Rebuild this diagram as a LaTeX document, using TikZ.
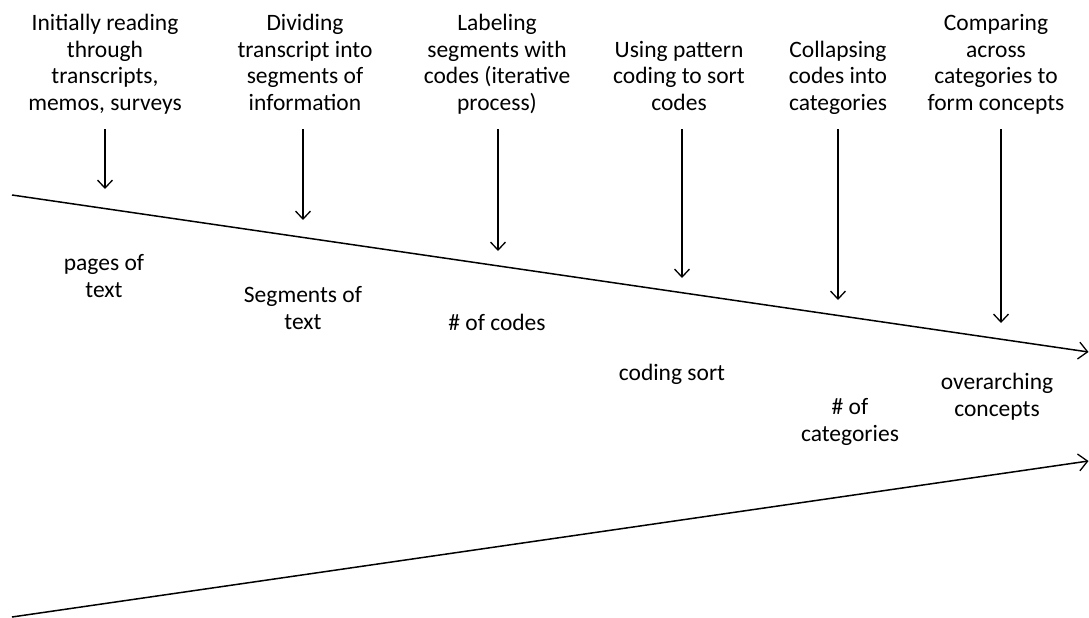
\documentclass[tikz,border=0pt]{standalone}
\usepackage{fontspec}
\setmainfont{Carlito}
\usetikzlibrary{arrows.meta}
\tikzset{
  lbl/.style={align=center, inner sep=0pt, anchor=base, font=\fontsize{23.5}{26.4}\selectfont},
  varrow/.style={line width=1.3pt, -{Straight Barb[length=8pt,width=15pt,line width=1.3pt]}},
  bigline/.style={line width=1.5pt, -{Straight Barb[length=9pt,width=17pt,line width=1.3pt]}}
}
\begin{document}
\begin{tikzpicture}[x=1pt,y=-1pt]
\useasboundingbox (0,0) rectangle (1089,618);
% top labels (anchored at last-line baseline)
\node[lbl] (t1) at (105,110) {Initially reading\\through\\transcripts,\\memos, surveys};
\node[lbl] (t2) at (305,110) {Dividing\\transcript into\\segments of\\information};
\node[lbl] (t3) at (497,110) {Labeling\\segments with\\codes (iterative\\process)};
\node[lbl] (t4) at (679,110) {Using pattern\\coding to sort\\codes};
\node[lbl] (t5) at (838,110) {Collapsing\\codes into\\categories};
\node[lbl] (t6) at (996,110) {Comparing\\across\\categories to\\form concepts};
% bottom labels
\node[lbl] (b1) at (104,297) {pages of\\text};
\node[lbl] (b2) at (303,329) {Segments of\\text};
\node[lbl] (b3) at (497,330) {\# of codes};
\node[lbl] (b4) at (672,380) {coding sort};
\node[lbl] (b5) at (850,441) {\# of\\categories};
\node[lbl] (b6) at (997,416) {overarching\\concepts};
% arrow coordinates
\coordinate (s1) at (105,129); \coordinate (e1) at (105,189);
\coordinate (s2) at (303,129); \coordinate (e2) at (303,220);
\coordinate (s3) at (498,129); \coordinate (e3) at (498,251);
\coordinate (s4) at (682,129); \coordinate (e4) at (682,278);
\coordinate (s5) at (838,129); \coordinate (e5) at (838,300);
\coordinate (s6) at (1001,129); \coordinate (e6) at (1001,323);
\foreach \i in {1,...,6} \draw[varrow] (s\i) -- (e\i);
% main lines
\coordinate (l1a) at (12,195); \coordinate (l1b) at (1088.5,352);
\coordinate (l2a) at (12,617); \coordinate (l2b) at (1088.5,461);
\draw[bigline] (l1a) -- (l1b);
\draw[bigline] (l2a) -- (l2b);
\end{tikzpicture}
\end{document}
